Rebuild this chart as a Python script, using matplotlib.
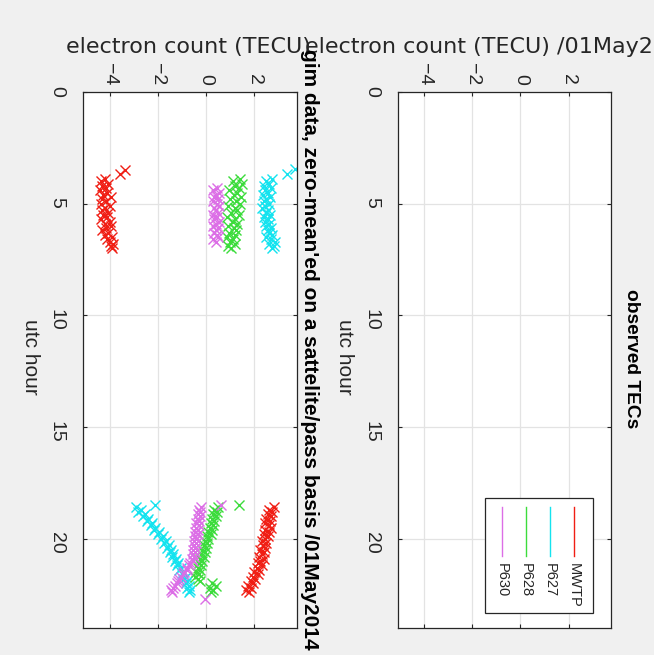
import matplotlib
matplotlib.use("Agg")
import matplotlib.pyplot as plt
from matplotlib.patches import Rectangle

# the screenshot is a MATLAB figure turned 90 deg clockwise, so utc hour runs down
# the page and electron count runs left to right
stations = ["MWTP", "P627", "P628", "P630"]
station_colors = ["#f01e14", "#14e3ef", "#3cdc3c", "#dc6ee6"]

tec_ticks = [-4, -2, 0, 2]
hour_ticks = [0, 5, 10, 15, 20]

# morning passes
hours_am = [3.9, 4.0, 4.1, 4.2, 4.3, 4.4, 4.5, 4.6, 4.7, 4.8, 4.9, 5.0, 5.1, 5.2, 5.3, 5.4,
            5.5, 5.6, 5.7, 5.8, 5.9, 6.0, 6.1, 6.2, 6.3, 6.4, 6.5, 6.6, 6.7, 6.8, 6.9, 7.0]
hours_p630_am = [4.3, 4.4, 4.5, 4.6, 4.7, 4.8, 4.9, 5.0, 5.1, 5.2, 5.3, 5.4, 5.5,
                 5.6, 5.7, 5.8, 5.9, 6.0, 6.1, 6.2, 6.3, 6.4, 6.5, 6.6, 6.7]
mwtp_am = [-4.2, -4.35, -4.05, -4.3, -4.15, -4.4, -4.1, -4.25, -3.95, -4.3, -4.15, -4.35, -4.0, -4.2, -4.3, -4.05,
           -4.25, -4.1, -4.35, -4.0, -4.2, -3.95, -4.15, -4.3, -4.05, -4.2, -3.9, -4.1, -4.0, -3.85, -3.95, -3.9]
p627_am = [2.75, 2.5, 2.6, 2.4, 2.7, 2.45, 2.55, 2.35, 2.65, 2.5, 2.4, 2.6, 2.45, 2.3, 2.55, 2.5,
           2.65, 2.4, 2.55, 2.45, 2.6, 2.5, 2.7, 2.55, 2.6, 2.75, 2.5, 2.7, 2.85, 2.6, 2.8, 2.75]
p628_am = [1.4, 1.1, 1.5, 1.2, 1.35, 0.95, 1.3, 1.15, 1.45, 1.0, 1.25, 1.4, 0.9, 1.2, 1.3, 1.05,
           1.35, 0.85, 1.2, 1.1, 1.3, 0.9, 1.15, 1.25, 0.95, 1.2, 0.85, 1.1, 1.0, 1.2, 0.9, 1.05]
p630_am = [0.45, 0.3, 0.55, 0.4, 0.35, 0.5, 0.3, 0.45, 0.55, 0.35, 0.4, 0.5, 0.3,
           0.45, 0.35, 0.55, 0.4, 0.3, 0.5, 0.4, 0.35, 0.45, 0.5, 0.3, 0.4]

# evening passes
hours_pm = [18.6, 18.7, 18.8, 18.9, 19.0, 19.1, 19.2, 19.3, 19.4, 19.5, 19.6, 19.7, 19.8,
            19.9, 20.0, 20.1, 20.2, 20.3, 20.4, 20.5, 20.6, 20.7, 20.8, 20.9, 21.0, 21.1,
            21.2, 21.3, 21.4, 21.5, 21.6, 21.7, 21.8, 21.9, 22.0, 22.1, 22.2, 22.3, 22.4]
mwtp_pm = [2.8, 2.6, 2.75, 2.55, 2.7, 2.5, 2.65, 2.45, 2.6, 2.7, 2.45, 2.6, 2.4,
           2.55, 2.45, 2.3, 2.5, 2.35, 2.45, 2.25, 2.4, 2.3, 2.2, 2.4, 2.25, 2.15,
           2.3, 2.1, 2.2, 2.0, 2.15, 1.95, 2.05, 1.85, 1.95, 1.75, 1.85, 1.65, 1.8]
p627_pm = [-2.9, -2.7, -2.8, -2.55, -2.6, -2.4, -2.45, -2.25, -2.3, -2.1, -2.15, -1.95, -2.0,
           -1.8, -1.85, -1.65, -1.75, -1.55, -1.6, -1.45, -1.5, -1.35, -1.4, -1.25, -1.3, -1.15,
           -1.2, -1.05, -1.1, -0.95, -1.0, -0.85, -0.95, -0.8, -0.85, -0.7, -0.8, -0.65, -0.7]
p628_pm = [0.5, 0.35, 0.45, 0.3, 0.4, 0.25, 0.35, 0.2, 0.3, 0.15, 0.25, 0.1, 0.2,
           0.05, 0.1, -0.05, 0.05, -0.1, 0.0, -0.15, -0.05, -0.2, -0.1, -0.25, -0.15, -0.3,
           -0.2, -0.35, -0.25, -0.4, -0.3, -0.45, -0.35, -0.25, 0.25, 0.4, 0.15, 0.3, 0.2]
p630_pm = [-0.2, -0.3, -0.25, -0.35, -0.25, -0.35, -0.3, -0.4, -0.3, -0.4, -0.35, -0.45, -0.35,
           -0.45, -0.4, -0.5, -0.4, -0.5, -0.45, -0.55, -0.45, -0.55, -0.5, -0.6, -0.55, -0.65,
           -0.7, -0.8, -0.8, -0.9, -0.95, -1.05, -1.1, -1.15, -1.2, -1.3, -1.35, -1.45, -1.4]

# stray points away from the main tracks (hour, tec)
mwtp_extra_hr, mwtp_extra = [3.5, 3.65], [-3.35, -3.55]
p627_extra_hr, p627_extra = [3.45, 3.65, 18.5], [3.7, 3.35, -2.1]
p628_extra_hr, p628_extra = [18.5], [1.35]
p630_extra_hr, p630_extra = [18.5, 22.7], [0.6, -0.05]

gim_hours = [
  hours_am + hours_pm + mwtp_extra_hr,
  hours_am + hours_pm + p627_extra_hr,
  hours_am + hours_pm + p628_extra_hr,
  hours_p630_am + hours_pm + p630_extra_hr,
]
gim_tec = [
  mwtp_am + mwtp_pm + mwtp_extra,
  p627_am + p627_pm + p627_extra,
  p628_am + p628_pm + p628_extra,
  p630_am + p630_pm + p630_extra,
]

ink = "#262626"
rot_font = "Liberation Sans"

fig = plt.figure(figsize=(6.54, 6.55), dpi=100)
fig.patch.set_facecolor("#f0f0f0")

ax_gim = fig.add_axes([0.1269, 0.0412, 0.3272, 0.8183])
ax_obs = fig.add_axes([0.6086, 0.0412, 0.3257, 0.8183])


def setup_axes(ax):
  ax.set_facecolor("white")
  ax.set_xlim(-5.1, 3.77)
  ax.set_ylim(24, 0)
  ax.set_xticks(tec_ticks)
  ax.set_yticks(hour_ticks)
  ax.xaxis.tick_top()
  ax.tick_params(direction="in", length=3, width=0.8, color=ink,
                 top=True, bottom=True, left=True, right=True,
                 labelcolor=ink, labelsize=14, labelfontfamily=rot_font)
  ax.tick_params(axis="x", labeltop=True, labelbottom=False, labelrotation=-90, pad=5)
  ax.tick_params(axis="y", labelrotation=-90, pad=13)
  ax.grid(True, color="#e3e3e3", lw=0.9)
  ax.set_axisbelow(True)
  for sp in ax.spines.values():
    sp.set_color(ink)
    sp.set_linewidth(0.9)


setup_axes(ax_gim)
setup_axes(ax_obs)

for hrs, tec, col in zip(gim_hours, gim_tec, station_colors):
  ax_gim.plot(tec, hrs, ls="none", marker="x", ms=6.5, mew=1.0, color=col)

# legend drawn by hand so it can sit turned like the rest of the figure
ax_obs.add_patch(Rectangle((0.408, 0.028), 0.507, 0.214, transform=ax_obs.transAxes,
                           facecolor="white", edgecolor=ink, lw=0.9, zorder=5))
legend_x = [0.826, 0.714, 0.601, 0.488]
for name, col, lx in zip(stations, station_colors, legend_x):
  ax_obs.plot([lx, lx], [0.225, 0.134], color=col, lw=1.0, transform=ax_obs.transAxes, zorder=6)
  ax_obs.text(lx, 0.121, name, rotation=-90, ha="center", va="top", fontsize=10.5,
              family=rot_font, color=ink, transform=ax_obs.transAxes, zorder=6)

# axis labels and titles
fig.text(0.2875, 0.928, "electron count (TECU)", ha="center", va="center", fontsize=16, color=ink)
fig.text(0.466, 0.928, "electron count (TECU) /01May2014", ha="left", va="center", fontsize=16, color=ink)
fig.text(0.046, 0.455, "utc hour", rotation=-90, ha="center", va="center", fontsize=15,
         family=rot_font, color=ink)
fig.text(0.5275, 0.455, "utc hour", rotation=-90, ha="center", va="center", fontsize=15,
         family=rot_font, color=ink)
fig.text(0.474, 0.466, "gim data, zero-mean'ed on a sattelite/pass basis /01May2014", rotation=-90,
         ha="center", va="center", fontsize=15, fontweight="bold", family=rot_font, color="black")
fig.text(0.965, 0.453, "observed TECs", rotation=-90, ha="center", va="center", fontsize=13.8,
         fontweight="bold", family=rot_font, color="black")

fig.savefig("out.png", dpi=100, facecolor=fig.get_facecolor())
